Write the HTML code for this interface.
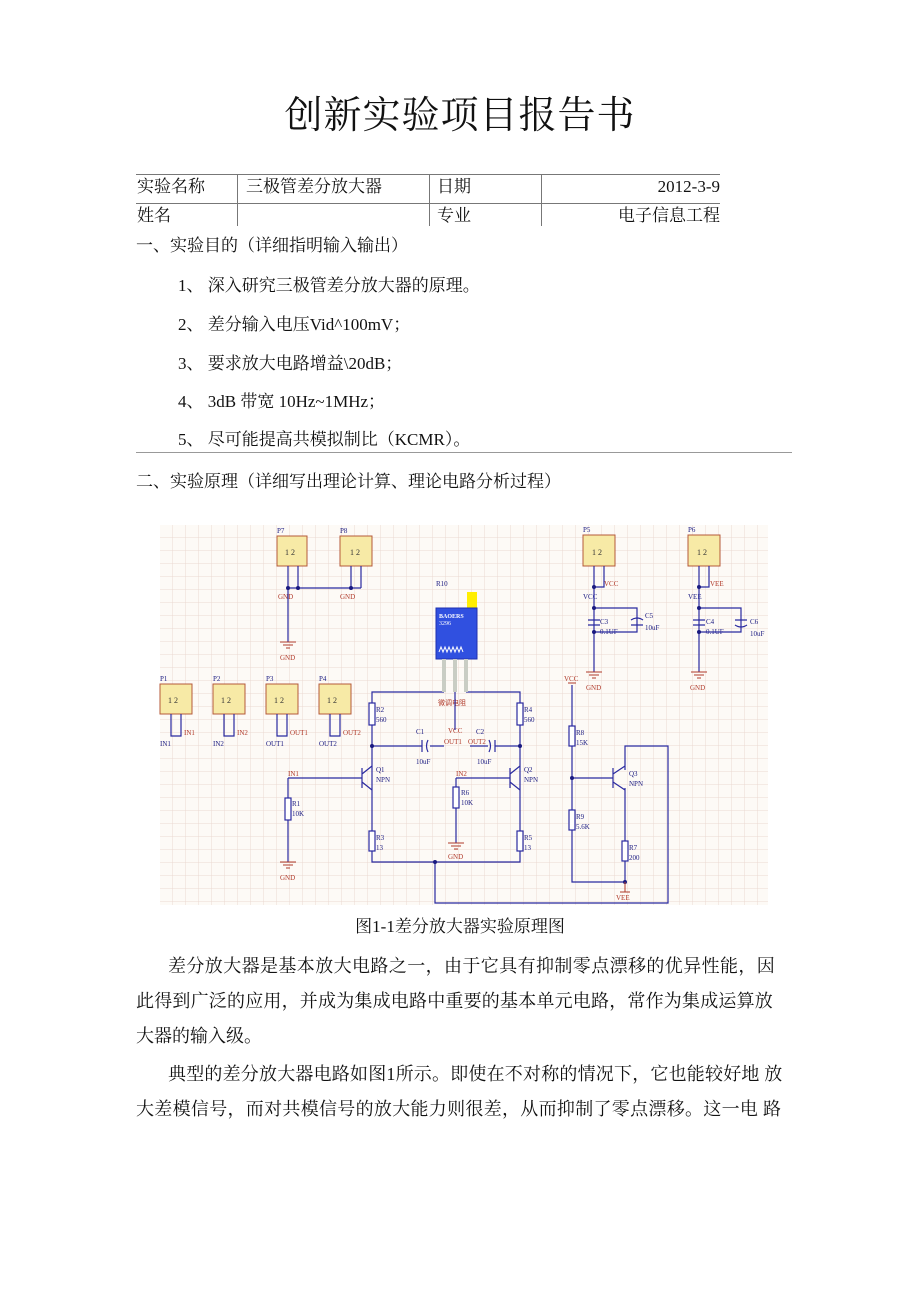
<!DOCTYPE html>
<html><head><meta charset="utf-8"><style>
html,body{margin:0;padding:0;background:#fff;}
body{width:920px;height:1302px;position:relative;overflow:hidden;font-family:"Liberation Serif","Noto Serif CJK SC",serif;color:#111;}
.t{position:absolute;white-space:nowrap;font-size:17px;line-height:20px;}
.title{position:absolute;left:0;width:920px;top:93px;text-align:center;font-size:38px;line-height:46px;font-family:"Liberation Serif","Noto Serif CJK SC",serif;letter-spacing:1px;}
.hl{position:absolute;height:1px;background:#777;}
.vl{position:absolute;width:1px;background:#777;}
.p{position:absolute;white-space:nowrap;font-size:18px;line-height:22px;}
</style></head><body>
<div class="title">创新实验项目报告书</div>

<div class="hl" style="left:136px;top:174px;width:584px"></div>
<div class="hl" style="left:136px;top:203px;width:584px"></div>
<div class="vl" style="left:237px;top:174px;height:52px"></div>
<div class="vl" style="left:429px;top:174px;height:52px"></div>
<div class="vl" style="left:541px;top:174px;height:52px"></div>
<div class="t" style="left:137px;top:177px">实验名称</div>
<div class="t" style="left:246px;top:177px">三极管差分放大器</div>
<div class="t" style="left:437px;top:177px">日期</div>
<div class="t" style="left:560px;width:160px;text-align:right;top:177px">2012-3-9</div>
<div class="t" style="left:137px;top:206px">姓名</div>
<div class="t" style="left:437px;top:206px">专业</div>
<div class="t" style="left:560px;width:160px;text-align:right;top:206px">电子信息工程</div>

<div class="t" style="left:136px;top:236px">一、实验目的（详细指明输入输出）</div>
<div class="t" style="left:178px;top:276px">1、 深入研究三极管差分放大器的原理。</div>
<div class="t" style="left:178px;top:315px">2、 差分输入电压Vid^100mV；</div>
<div class="t" style="left:178px;top:354px">3、 要求放大电路增益\20dB；</div>
<div class="t" style="left:178px;top:392px">4、 3dB 带宽 10Hz~1MHz；</div>
<div class="t" style="left:178px;top:430px">5、 尽可能提高共模拟制比（KCMR）。</div>
<div class="hl" style="left:136px;top:452px;width:656px;background:#999"></div>
<div class="t" style="left:136px;top:472px">二、实验原理（详细写出理论计算、理论电路分析过程）</div>

<svg style="position:absolute;left:0;top:0" width="920" height="1302" font-family="Liberation Serif" font-size="7">
<defs><pattern id="g" width="13" height="13" patternUnits="userSpaceOnUse" x="160" y="525"><path d="M13 0V13H0" fill="none" stroke="#ead9d2" stroke-width="1"/></pattern></defs>
<rect x="160" y="525" width="608" height="380" fill="#fdfaf6"/>
<rect x="160" y="525" width="608" height="380" fill="url(#g)"/>
<g fill="#f7eaa6" stroke="#b5593a" stroke-width="1">
<rect x="277" y="536" width="30" height="30"/><rect x="340" y="536" width="32" height="30"/>
<rect x="583" y="535" width="32" height="31"/><rect x="688" y="535" width="32" height="31"/>
<rect x="160" y="684" width="32" height="30"/><rect x="213" y="684" width="32" height="30"/>
<rect x="266" y="684" width="32" height="30"/><rect x="319" y="684" width="32" height="30"/>
</g>
<g fill="#333" font-size="8"><text x="285" y="555">1 2</text><text x="350" y="555">1 2</text><text x="592" y="555">1 2</text><text x="697" y="555">1 2</text><text x="168" y="703">1 2</text><text x="221" y="703">1 2</text><text x="274" y="703">1 2</text><text x="327" y="703">1 2</text></g>
<g fill="#1a1a80"><text x="277" y="533">P7</text><text x="340" y="533">P8</text><text x="583" y="532">P5</text><text x="688" y="532">P6</text><text x="160" y="681">P1</text><text x="213" y="681">P2</text><text x="266" y="681">P3</text><text x="319" y="681">P4</text><text x="436" y="586">R10</text>
<text x="376" y="712">R2</text><text x="376" y="722">560</text><text x="524" y="712">R4</text><text x="524" y="722">560</text>
<text x="416" y="734">C1</text><text x="476" y="734">C2</text><text x="416" y="764">10uF</text><text x="477" y="764">10uF</text>
<text x="376" y="772">Q1</text><text x="376" y="782">NPN</text><text x="524" y="772">Q2</text><text x="524" y="782">NPN</text>
<text x="292" y="806">R1</text><text x="292" y="816">10K</text><text x="461" y="795">R6</text><text x="461" y="805">10K</text>
<text x="376" y="840">R3</text><text x="376" y="850">13</text><text x="524" y="840">R5</text><text x="524" y="850">13</text>
<text x="600" y="624">C3</text><text x="600" y="634">0.1UF</text><text x="645" y="618">C5</text><text x="645" y="630">10uF</text>
<text x="706" y="624">C4</text><text x="706" y="634">0.1UF</text><text x="750" y="624">C6</text><text x="750" y="636">10uF</text>
<text x="576" y="735">R8</text><text x="576" y="745">15K</text><text x="576" y="819">R9</text><text x="576" y="829">5.6K</text>
<text x="629" y="776">Q3</text><text x="629" y="786">NPN</text><text x="629" y="850">R7</text><text x="629" y="860">200</text>
<text x="583" y="599">VCC</text><text x="688" y="599">VEE</text>
<text x="160" y="746">IN1</text><text x="213" y="746">IN2</text><text x="266" y="746">OUT1</text><text x="319" y="746">OUT2</text>
</g>
<g fill="#b03a2a"><text x="278" y="599">GND</text><text x="340" y="599">GND</text><text x="280" y="660">GND</text><text x="586" y="690">GND</text><text x="690" y="690">GND</text>
<text x="604" y="586">VCC</text><text x="710" y="586">VEE</text><text x="564" y="681">VCC</text><text x="616" y="900">VEE</text>
<text x="184" y="735">IN1</text><text x="237" y="735">IN2</text><text x="290" y="735">OUT1</text><text x="343" y="735">OUT2</text>
<text x="288" y="776">IN1</text><text x="456" y="776">IN2</text><text x="280" y="880">GND</text><text x="448" y="859">GND</text>
<text x="448" y="733">VCC</text><text x="444" y="744">OUT1</text><text x="468" y="744">OUT2</text><text x="438" y="705">微调电阻</text></g>
<g stroke="#2a2aa0" fill="none" stroke-width="1.2">
<path d="M288 566V642M298 566V588M351 566V588M361 566V588M288 588H361"/>
<path d="M594 566V672M604 566V587H594M594 608H637V632H594M699 566V672M709 566V587H699M699 608H741V632H699"/>
<path d="M171 714V736H181V714M224 714V736H234V714M277 714V736H287V714M330 714V736H340V714"/>
<path d="M444 692H372V862H520V692H466M372 746H422M430 746H444M470 746H488M495 746H520"/>
<path d="M288 778H362M288 778V862M456 778H510M456 778V843M455 692V730"/>
<path d="M362 768V788M362 774L372 766M362 782L372 790M510 768V788M510 774L520 766M510 782L520 790"/>
<path d="M435 862V903H668V746H625V770M572 685V882H625V788M572 778H613M613 768V788M613 774L625 766M613 782L625 790"/>
<path d="M422 740V752M428 740Q425 746 428 752M489 740Q492 746 489 752M495 740V752M588 620H600M588 625H600M693 620H705M693 625H705M631 620Q637 616 643 620M631 625H643M735 620H747M735 625Q741 629 747 625"/>
</g>
<g fill="#fff" stroke="#2a2aa0" stroke-width="1.2">
<rect x="369" y="703" width="6" height="22"/><rect x="517" y="703" width="6" height="22"/>
<rect x="285" y="798" width="6" height="22"/><rect x="453" y="787" width="6" height="21"/>
<rect x="369" y="831" width="6" height="20"/><rect x="517" y="831" width="6" height="20"/>
<rect x="569" y="726" width="6" height="20"/><rect x="569" y="810" width="6" height="20"/><rect x="622" y="841" width="6" height="20"/>
</g>
<g fill="#1a1a80"><circle cx="288" cy="588" r="2"/><circle cx="298" cy="588" r="2"/><circle cx="351" cy="588" r="2"/><circle cx="594" cy="587" r="2"/><circle cx="594" cy="608" r="2"/><circle cx="594" cy="632" r="2"/><circle cx="699" cy="587" r="2"/><circle cx="699" cy="608" r="2"/><circle cx="699" cy="632" r="2"/><circle cx="372" cy="746" r="2"/><circle cx="520" cy="746" r="2"/><circle cx="435" cy="862" r="2"/><circle cx="572" cy="778" r="2"/><circle cx="625" cy="882" r="2"/></g>
<g stroke="#b03a2a" stroke-width="1"><path d="M280 642H296M283 645H293M286 648H290M448 843H464M451 846H461M454 849H458M280 862H296M283 865H293M286 868H290M586 672H602M589 675H599M592 678H596M691 672H707M694 675H704M697 678H701M568 683H576M625 882V892M620 892H630"/></g>
<rect x="467" y="592" width="10" height="16" fill="#ffee00"/>
<rect x="436" y="608" width="41" height="51" fill="#3050e0" stroke="#2030b0"/>
<text x="439" y="618" fill="#fff" font-size="6" font-weight="bold">BAOERS</text><text x="439" y="625" fill="#fff" font-size="6">3296</text>
<path d="M439 652l2-5 2 5 2-5 2 5 2-5 2 5 2-5 2 5 2-5 2 5 2-5 2 5" stroke="#fff" fill="none"/>
<g fill="#c9cdc4"><rect x="442" y="659" width="4" height="33"/><rect x="453" y="659" width="4" height="33"/><rect x="464" y="659" width="4" height="33"/></g>
</svg>

<div class="t" style="left:0;width:920px;text-align:center;top:917px">图1-1差分放大器实验原理图</div>
<div class="p" style="left:168px;top:955px;letter-spacing:0.4px">差分放大器是基本放大电路之一，由于它具有抑制零点漂移的优异性能，因</div>
<div class="p" style="left:136px;top:990px;letter-spacing:0.2px">此得到广泛的应用，并成为集成电路中重要的基本单元电路，常作为集成运算放</div>
<div class="p" style="left:136px;top:1025px">大器的输入级。</div>
<div class="p" style="left:168px;top:1063px;letter-spacing:0.2px">典型的差分放大器电路如图1所示。即使在不对称的情况下，它也能较好地 放</div>
<div class="p" style="left:136px;top:1098px;letter-spacing:0.3px">大差模信号，而对共模信号的放大能力则很差，从而抑制了零点漂移。这一电 路</div>
</body></html>
